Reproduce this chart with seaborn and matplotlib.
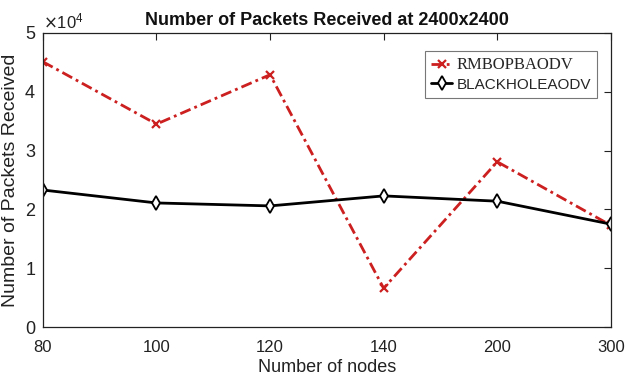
import matplotlib
matplotlib.use("Agg")
import matplotlib.pyplot as plt
import matplotlib.ticker as mticker
import seaborn as sns
import pandas as pd

nodes = ["80", "100", "120", "140", "200", "300"]
rmbopbaodv = [45100, 34500, 42900, 6600, 28100, 17300]
blackholeaodv = [23300, 21100, 20600, 22300, 21400, 17500]

sns.set_theme(style="white")
plt.rcParams["font.family"] = ["Liberation Sans Narrow", "Liberation Sans", "DejaVu Sans"]

df = pd.DataFrame({
    "pos": list(range(len(nodes))) * 2,
    "packets": rmbopbaodv + blackholeaodv,
    "protocol": ["RMBOPBAODV"] * len(nodes) + ["BLACKHOLEAODV"] * len(nodes),
})

fig = plt.figure(figsize=(6.31, 3.83), dpi=100)
ax = fig.add_axes([0.068, 0.146, 0.90, 0.768])

sns.lineplot(data=df[df.protocol == "RMBOPBAODV"], x="pos", y="packets", ax=ax,
             color="#cc1f1f", linestyle=(0, (4, 1.5, 1, 1.5)), linewidth=2.0,
             marker="x", markersize=6, markeredgewidth=1.6, markeredgecolor="#cc1f1f",
             label="RMBOPBAODV")
sns.lineplot(data=df[df.protocol == "BLACKHOLEAODV"], x="pos", y="packets", ax=ax,
             color="black", linewidth=2.0, marker="d", markersize=7,
             markerfacecolor="white", markeredgecolor="black", markeredgewidth=1.3,
             label="BLACKHOLEAODV")

ax.set_xlim(0, len(nodes) - 1)
ax.set_ylim(0, 50000)
ax.set_xticks(range(len(nodes)))
ax.set_xticklabels(nodes)
ax.set_yticks([0, 10000, 20000, 30000, 40000, 50000])

fmt = mticker.ScalarFormatter(useMathText=True)
fmt.set_powerlimits((0, 0))
ax.yaxis.set_major_formatter(fmt)
ax.yaxis.get_offset_text().set_fontsize(12)
ax.yaxis.get_offset_text().set_color("#444444")

ax.tick_params(axis="both", direction="in", length=5, width=0.8,
               colors="#222222", top=True, right=True)
ax.tick_params(axis="x", labelsize=12, pad=9)
ax.tick_params(axis="y", labelsize=13, pad=5)
for s in ax.spines.values():
    s.set_color("#222222")
    s.set_linewidth(0.9)

ax.set_xlabel("Number of nodes", fontsize=13, color="#222222", labelpad=3)
ax.set_ylabel("Number of Packets Received", fontsize=14, color="#222222",
              family=["Liberation Sans", "DejaVu Sans"])
ax.set_title("Number of Packets Received at 2400x2400", fontsize=13,
             fontweight="bold", color="#111111")

leg = ax.legend(loc="upper right", fontsize=11, frameon=True, fancybox=False,
                edgecolor="#555555", handlelength=1.4, handletextpad=0.3,
                borderpad=0.4, labelspacing=0.3, bbox_to_anchor=(0.99, 0.965))
leg.get_frame().set_linewidth(0.8)
leg.get_texts()[0].set_family(["Liberation Serif", "DejaVu Serif"])
leg.get_texts()[0].set_fontsize(12)

fig.savefig("out.png", dpi=100)
